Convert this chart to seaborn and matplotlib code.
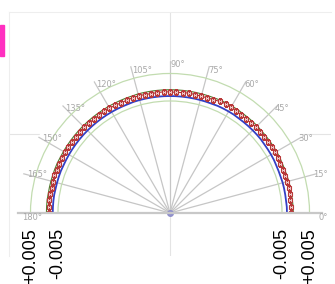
import numpy as np
import matplotlib
matplotlib.use("Agg")
import matplotlib.pyplot as plt
import seaborn as sns
from matplotlib.patches import Rectangle

# measured angles (deg) and radial deviations
angle_deg = [0, 3, 6, 9, 12, 15, 18, 21, 24, 27,
             30, 33, 36, 39, 42, 45, 48, 51, 54, 57,
             60, 63, 66, 69, 72, 75, 78, 81, 84, 87,
             90, 93, 96, 99, 102, 105, 108, 111, 114, 117,
             120, 123, 126, 129, 132, 135, 138, 141, 144, 147,
             150, 153, 156, 159, 162, 165, 168, 171, 174, 177,
             180]

measured_dev = [-0.0016, -0.0017, -0.0018, -0.0017, -0.0016, -0.0017, -0.0018, -0.0019, -0.0018, -0.0017,
                -0.0016, -0.0017, -0.0018, -0.0017, -0.0016, -0.0015, -0.0017, -0.0018, -0.0017, -0.0014,
                -0.0012, -0.0011, -0.0013, -0.0016, -0.0017, -0.0018, -0.0017, -0.0016, -0.0017, -0.0018,
                -0.0017, -0.0016, -0.0017, -0.0018, -0.0017, -0.0016, -0.0017, -0.0018, -0.0019, -0.0018,
                -0.0017, -0.0016, -0.0017, -0.0018, -0.0017, -0.0016, -0.0017, -0.0018, -0.0017, -0.0016,
                -0.0017, -0.0018, -0.0017, -0.0016, -0.0015, -0.0016, -0.0017, -0.0016, -0.0015, -0.0016,
                -0.0016]

fit_dev = [-0.0032, -0.0032, -0.0033, -0.0033, -0.0033, -0.0033, -0.0034, -0.0034, -0.0034, -0.0033,
           -0.0033, -0.0033, -0.0033, -0.0032, -0.0032, -0.0032, -0.0032, -0.0032, -0.0032, -0.0031,
           -0.0031, -0.0031, -0.0031, -0.0032, -0.0032, -0.0032, -0.0032, -0.0032, -0.0032, -0.0032,
           -0.0032, -0.0032, -0.0032, -0.0032, -0.0032, -0.0032, -0.0032, -0.0033, -0.0033, -0.0033,
           -0.0033, -0.0033, -0.0033, -0.0033, -0.0033, -0.0033, -0.0033, -0.0033, -0.0033, -0.0033,
           -0.0033, -0.0033, -0.0033, -0.0032, -0.0032, -0.0032, -0.0032, -0.0031, -0.0031, -0.0031,
           -0.0031]

upper_dev = [-0.0009, -0.0009, -0.0010, -0.0010, -0.0010, -0.0010, -0.0011, -0.0011, -0.0011, -0.0010,
             -0.0010, -0.0010, -0.0010, -0.0010, -0.0010, -0.0009, -0.0009, -0.0009, -0.0009, -0.0008,
             -0.0008, -0.0008, -0.0008, -0.0009, -0.0009, -0.0009, -0.0009, -0.0009, -0.0009, -0.0009,
             -0.0009, -0.0009, -0.0009, -0.0009, -0.0009, -0.0009, -0.0010, -0.0010, -0.0010, -0.0010,
             -0.0010, -0.0010, -0.0010, -0.0010, -0.0010, -0.0010, -0.0010, -0.0010, -0.0010, -0.0010,
             -0.0010, -0.0010, -0.0009, -0.0009, -0.0009, -0.0009, -0.0009, -0.0009, -0.0008, -0.0008,
             -0.0008]

tolerance = [-0.005, 0.005]
tol_labels = ["-0.005", "+0.005"]
theta_ticks = [0, 15, 30, 45, 60, 75, 90, 105, 120, 135, 150, 165, 180]

r_min, r_max = -0.04573, 0.00954

sns.set_theme(style="white")
plt.rcParams['font.family'] = ['DejaVu Sans']

fig = plt.figure(figsize=(3.35, 2.84), dpi=100)
W, H = 335, 284

# faint cartesian grid behind the polar plot
bg = fig.add_axes([9 / W, (H - 256) / H, 322 / W, 244 / H], zorder=0)
bg.set_xlim(-1, 1)
bg.set_ylim(-1, 1)
bg.set_xticks([0])
bg.set_yticks([0])
bg.set_xticklabels([])
bg.set_yticklabels([])
bg.tick_params(length=0)
bg.grid(True, color="#e4e4e4", lw=0.8)
for side in ["right", "bottom"]:
    bg.spines[side].set_visible(False)
for side in ["left", "top"]:
    bg.spines[side].set_color("#eeeeee")
    bg.spines[side].set_linewidth(0.8)
bg.patch.set_alpha(0)

# half-disc sits in the middle of a square box: centre at (170, 213), radius 152 px
ax = fig.add_axes([18 / W, (H - 289) / H, 304 / W, 304 / H], projection="polar", zorder=1)
ax.set_thetamin(0)
ax.set_thetamax(180)
ax.set_rlim(r_min, r_max)

theta = np.deg2rad(angle_deg)

ax.set_thetagrids(theta_ticks, labels=[""] * len(theta_ticks))
ax.set_rgrids(tolerance, labels=["", ""])
ax.xaxis.grid(True, color="#c6c6c6", lw=0.9)
ax.yaxis.grid(True, color="#c2dcb0", lw=0.9)
ax.spines["polar"].set_visible(False)
for side in ["start", "end"]:
    ax.spines[side].set_color("#c8c8c8")
    ax.spines[side].set_linewidth(1.6)
ax.spines["inner"].set_visible(False)

sns.lineplot(x=theta, y=fit_dev, ax=ax, color="#3340c4", lw=1.3, sort=False)
sns.lineplot(x=theta, y=upper_dev, ax=ax, color="#4e7a2c", lw=0.8, sort=False)
ax.plot(theta, measured_dev, color="#a83030", lw=0.8, marker="s", ms=3.0,
        mfc="#f0cccc", mec="#b83838", mew=0.8)

ax.plot([0], [r_min], "o", color="#9090cc", ms=4, clip_on=False)
ax.set_xlabel("")
ax.set_ylabel("")

# angle labels
r_lab = r_min + 148 / 2750
for a in theta_ticks:
    va = "top" if a in (0, 180) else "center"
    ax.text(np.deg2rad(a), r_lab, f"{a}\u00b0", ha="left", va=va,
            fontsize=6, color="#a8a8a8")

# tolerance labels under the baseline
for ang in [0, np.pi]:
    for val, lab in zip(tolerance, tol_labels):
        ax.annotate(lab, xy=(ang, val), xytext=(0, -15), textcoords="offset pixels",
                    rotation=90, ha="center", va="top", fontsize=13,
                    family="Liberation Sans", color="black", annotation_clip=False)

fig.patches.append(Rectangle((0, (H - 56) / H), 4 / W, 31 / H,
                             transform=fig.transFigure, color="#ff2fc0", zorder=5))

fig.savefig("out.png", dpi=100)
